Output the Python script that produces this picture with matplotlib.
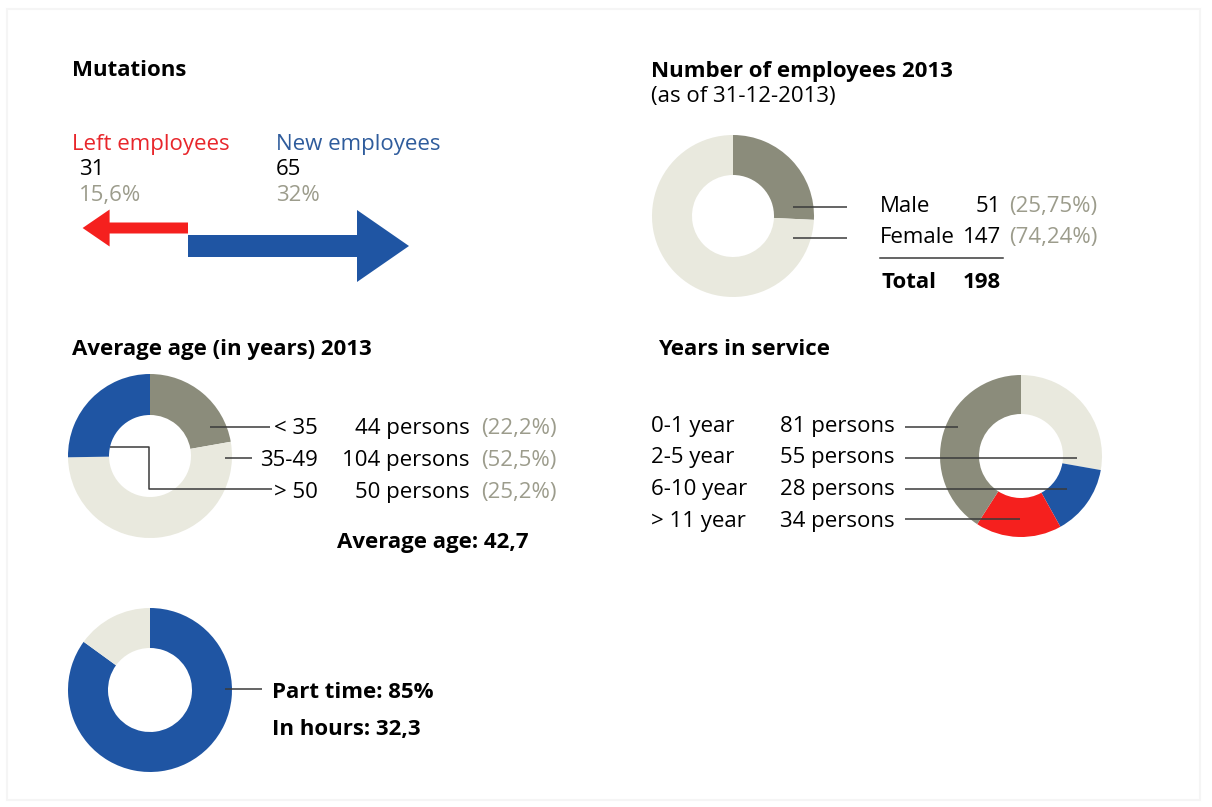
import matplotlib.pyplot as plt
import matplotlib.patches as mpatches

W, H = 1212, 807
FONT = 'Open Sans'

GRAY = '#8b8c7b'
LIGHT = '#e9e9de'
BLUE = '#1f55a3'
RED = '#f5201e'
TXT_GRAY = '#9c9c8c'

# Mutations
left_count = 31
left_pct = '15,6%'
new_count = 65
new_pct = '32%'

# Number of employees 2013
gender_labels = ['Male', 'Female']
gender_values = [51, 147]
gender_pcts = ['(25,75%)', '(74,24%)']
gender_total = 198

# Average age
age_labels = ['< 35', '35-49', '> 50']
age_values = [44, 104, 50]
age_pcts = ['(22,2%)', '(52,5%)', '(25,2%)']
average_age = '42,7'

# Years in service (listed top to bottom as in the legend)
service_labels = ['0-1 year', '2-5 year', '6-10 year', '> 11 year']
service_values = [81, 55, 28, 34]

# Part time
part_time = [85, 15]
part_hours = '32,3'

fig = plt.figure(figsize=(W / 100, H / 100), dpi=100)
fig.patch.set_facecolor('white')


def donut(cx, cy, r_out, r_in, values, colors):
    ax = fig.add_axes([(cx - r_out) / W, 1 - (cy + r_out) / H, 2 * r_out / W, 2 * r_out / H])
    ax.pie(values, colors=colors, startangle=90, counterclock=False, radius=1,
           wedgeprops=dict(width=1 - r_in / r_out, linewidth=0))
    ax.set_xlim(-1, 1)
    ax.set_ylim(-1, 1)
    ax.set_aspect('equal')
    ax.axis('off')
    return ax


donut(733, 216, 81, 41, gender_values, [GRAY, LIGHT])
donut(150, 456, 82, 41, age_values, [GRAY, LIGHT, BLUE])
# clockwise from the top: 2-5, 6-10, >11, 0-1
donut(1021, 456, 81, 42, [service_values[1], service_values[2], service_values[3], service_values[0]],
      [LIGHT, BLUE, RED, GRAY])
donut(150, 690, 82, 42, part_time, [BLUE, LIGHT])

# overlay for text, lines and arrows (pixel coordinates)
ax = fig.add_axes([0, 0, 1, 1], facecolor='none')
ax.set_xlim(0, W)
ax.set_ylim(H, 0)
ax.axis('off')

ax.add_patch(mpatches.Rectangle((7, 9), 1193, 791, fill=False, edgecolor='#f5f5f5', linewidth=1.5))


def txt(x, y, s, size=16, color='black', weight='normal', ha='left'):
    ax.text(x, y, s, fontsize=size, color=color, fontweight=weight, ha=ha, va='baseline', family=FONT)


def line(xs, ys):
    ax.plot(xs, ys, color='#3a3a3a', linewidth=1.1, solid_capstyle='butt')


# ---- Mutations
txt(72, 76, 'Mutations', weight='bold')
txt(72, 150, 'Left employees', color='#e8262b')
txt(79, 175, str(left_count))
txt(79, 201, left_pct, color=TXT_GRAY)
txt(276, 150, 'New employees', color='#2f5c9c')
txt(276, 175, str(new_count))
txt(276, 201, new_pct, color=TXT_GRAY)

px_per_person = 3.4
x0 = 188
ax.add_patch(mpatches.FancyArrow(x0, 228, -left_count * px_per_person, 0, width=11, head_width=37,
                                 head_length=27, length_includes_head=True, color=RED, linewidth=0))
ax.add_patch(mpatches.FancyArrow(x0, 246, new_count * px_per_person, 0, width=22, head_width=72,
                                 head_length=52, length_includes_head=True, color=BLUE, linewidth=0))

# ---- Number of employees
txt(651, 77, 'Number of employees 2013', weight='bold')
txt(651, 102, '(as of 31-12-2013)')
for i, (lab, val, pct) in enumerate(zip(gender_labels, gender_values, gender_pcts)):
    y = 212 + i * 31
    txt(880, y, lab)
    txt(1001, y, str(val), ha='right')
    txt(1009, y, pct, color=TXT_GRAY)
    line([793, 847], [y - 5, y - 5])
ax.plot([880, 1003], [258, 258], color='#3a3a3a', linewidth=1.1)
txt(882, 288, 'Total', weight='bold')
txt(1001, 288, str(gender_total), weight='bold', ha='right')

# ---- Average age
txt(72, 355, 'Average age (in years) 2013', weight='bold')
for i, (lab, val, pct) in enumerate(zip(age_labels, age_values, age_pcts)):
    y = 434 + i * 32
    txt(318, y, lab, ha='right')
    txt(470, y, f'{val} persons', ha='right')
    txt(481, y, pct, color=TXT_GRAY)
line([210, 270], [427, 427])
line([225, 252], [458, 458])
line([110, 149, 149, 272], [447, 447, 489, 489])
txt(337, 548, f'Average age: {average_age}', weight='bold')

# ---- Years in service
txt(658, 355, 'Years in service', weight='bold')
for i, (lab, val) in enumerate(zip(service_labels, service_values)):
    y = 432 + i * 31.5
    txt(651, y, lab)
    txt(780, y, f'{val} persons')
line([905, 958], [427, 427])
line([905, 1077], [458, 458])
line([905, 1067], [489, 489])
line([905, 1020], [519, 519])

# ---- Part time
line([225, 262], [689, 689])
txt(272, 698, f'Part time: {part_time[0]}%', weight='bold')
txt(272, 735, f'In hours: {part_hours}', weight='bold')

fig.savefig('out.png', dpi=100, facecolor='white')
